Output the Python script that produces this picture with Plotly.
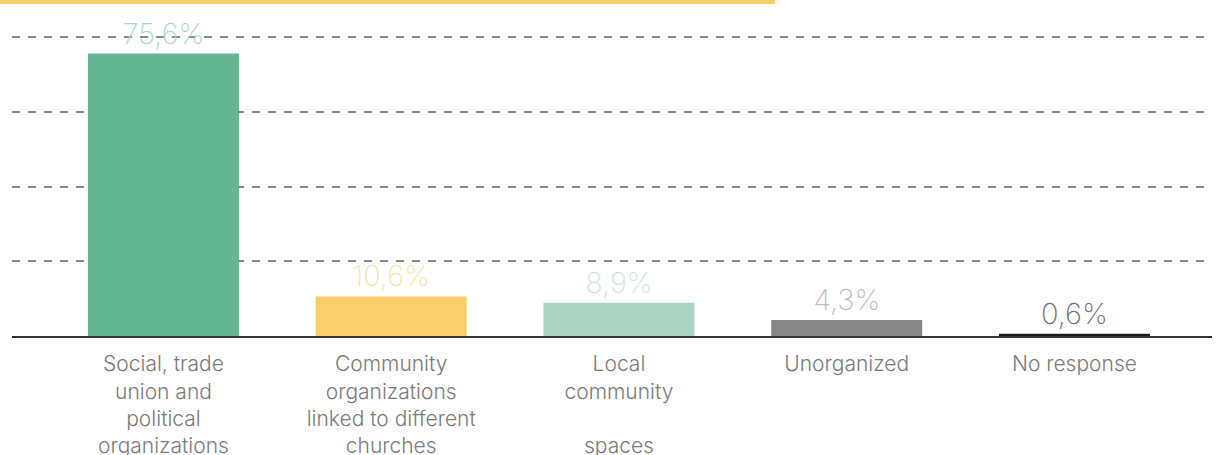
import plotly.graph_objects as go

categories = ["Social, trade union and political organizations",
              "Community organizations linked to different churches",
              "Local community spaces",
              "Unorganized",
              "No response"]
tick_labels = ["Social, trade<br>union and<br>political<br>organizations",
               "Community<br>organizations<br>linked to different<br>churches",
               "Local<br>community<br><br>spaces",
               "Unorganized",
               "No response"]
values = [75.6, 10.6, 8.9, 4.3, 0.6]
value_labels = ["75,6%", "10,6%", "8,9%", "4,3%", "0,6%"]
bar_colors = ["#62b692", "#f8cf6a", "#abd4c4", "#878787", "#1d1d1b"]
label_colors = ["#a9dcc3", "#fbe4a8", "#cfe7dd", "#bdbdbd", "#707070"]

FONT = "Inter"

fig = go.Figure(go.Bar(
    x=categories, y=values,
    marker=dict(color=bar_colors, line=dict(width=0)),
    width=0.663,
    text=value_labels, textposition="outside",
    textfont=dict(family=FONT, size=29, color=label_colors, weight=200),
    cliponaxis=False,
))

fig.update_layout(
    width=1218, height=455,
    margin=dict(l=12, r=6, t=36, b=119, autoexpand=False),
    paper_bgcolor="white", plot_bgcolor="white",
    showlegend=False,
    font=dict(family=FONT, color="#666666"),
    xaxis=dict(
        range=[-0.665, 4.604],
        tickmode="array", tickvals=categories, ticktext=tick_labels,
        tickfont=dict(family=FONT, size=21, color="#7a7a7a", weight=300),
        showline=True, linecolor="#333333", linewidth=2,
        ticks="", ticklabelstandoff=8, automargin=False,
        showgrid=False, zeroline=False,
    ),
    yaxis=dict(
        range=[0, 80.3], tickvals=[20, 40, 60, 80],
        showticklabels=False, automargin=False,
        showgrid=True, gridcolor="#888888", gridwidth=2, griddash="8px,8px",
        zeroline=False,
    ),
    shapes=[dict(type="rect", xref="paper", yref="paper",
                 x0=-0.01, x1=0.636, y0=1.107, y1=1.121,
                 fillcolor="#f8cf6a", line=dict(width=0), layer="above")],
)

fig.write_html("out.html",
               config={"displayModeBar": False},
               post_script="document.body.style.margin='0';document.body.style.padding='0';")
